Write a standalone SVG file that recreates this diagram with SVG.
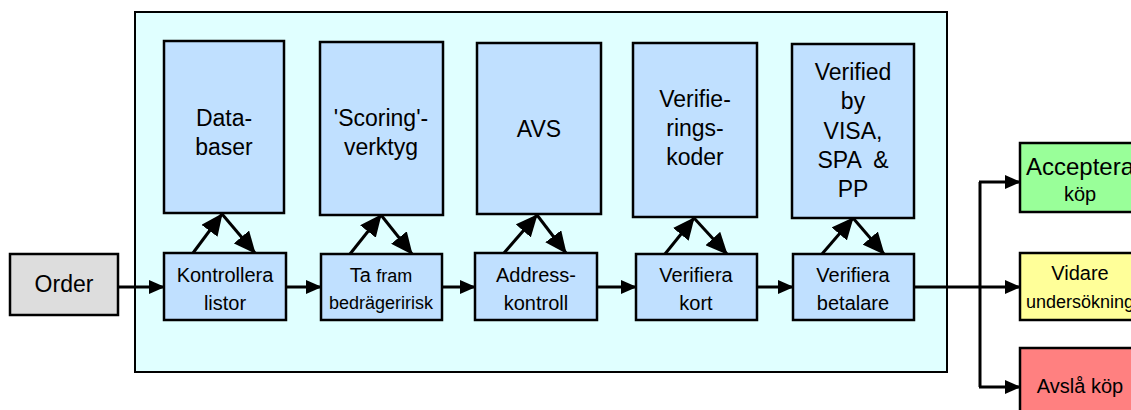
<svg xmlns="http://www.w3.org/2000/svg" width="1131" height="410" viewBox="0 0 1131 410">
  <style>
    .frame { fill: #E0FFFF; stroke: #000; stroke-width: 2; }
    .blue { fill: #C0E0FF; stroke: #000; stroke-width: 2.5; }
    .order { fill: #DDDDDD; stroke: #000; stroke-width: 2.5; }
    .ok { fill: #99FF99; stroke: #000; stroke-width: 2.5; }
    .maybe { fill: #FFFF99; stroke: #000; stroke-width: 2.5; }
    .no { fill: #FF8080; stroke: #000; stroke-width: 2.5; }
    text { font-family: "Liberation Sans", Arial, sans-serif; fill: #000; text-anchor: middle; }
    .big { font-size: 23px; }
    .mid { font-size: 20px; }
    .sm { font-size: 18px; }
    .flow { stroke: #000; stroke-width: 3; fill: none; marker-end: url(#head); }
    .link { stroke: #000; stroke-width: 3; fill: none; marker-end: url(#headL); }
    .plain { stroke: #000; stroke-width: 3; fill: none; }
  </style>
  <defs>
    <marker id="head" markerUnits="userSpaceOnUse" markerWidth="16" markerHeight="14" refX="15" refY="7" orient="auto">
      <path d="M0,0 L16,7 L0,14 z" fill="#000"/>
    </marker>
    <marker id="headL" markerUnits="userSpaceOnUse" markerWidth="22" markerHeight="20" refX="21" refY="10" orient="auto">
      <path d="M0,0 L22,10 L0,20 z" fill="#000"/>
    </marker>
  </defs>

  <!-- process frame -->
  <rect class="frame" x="135" y="12" width="812" height="360"/>

  <!-- connectors -->
  <g id="connectors">
    <!-- main flow -->
    <line class="flow" x1="118" y1="287" x2="164" y2="287"/>
    <line class="flow" x1="286" y1="287" x2="321" y2="287"/>
    <line class="flow" x1="442" y1="287" x2="475" y2="287"/>
    <line class="flow" x1="597" y1="287" x2="636" y2="287"/>
    <line class="flow" x1="757" y1="287" x2="793" y2="287"/>
    <line class="flow" x1="914" y1="287" x2="1020" y2="287"/>
    <!-- outcome branches -->
    <path class="plain" d="M980,182 L980,387"/>
    <line class="flow" x1="979" y1="182" x2="1020" y2="182"/>
    <line class="flow" x1="979" y1="387" x2="1020" y2="387"/>
    <!-- lookups: request up, answer down -->
    <line class="link" x1="193" y1="253" x2="222" y2="214"/>
    <line class="link" x1="222" y1="214" x2="255" y2="253"/>
    <line class="link" x1="350" y1="254" x2="381" y2="215"/>
    <line class="link" x1="381" y1="215" x2="412" y2="254"/>
    <line class="link" x1="504" y1="253" x2="537" y2="215"/>
    <line class="link" x1="537" y1="215" x2="566" y2="253"/>
    <line class="link" x1="665" y1="254" x2="694" y2="218"/>
    <line class="link" x1="694" y1="218" x2="727" y2="254"/>
    <line class="link" x1="822" y1="254" x2="853" y2="218"/>
    <line class="link" x1="853" y1="218" x2="884" y2="254"/>
  </g>

  <!-- input -->
  <g id="order">
    <rect class="order" x="10" y="254" width="108" height="61"/>
    <text class="big" x="64" y="292">Order</text>
  </g>

  <!-- data sources -->
  <g id="databaser">
    <rect class="blue" x="164" y="41" width="120" height="172"/>
    <text class="big" x="224" y="126">Data-</text>
    <text class="big" x="224" y="155">baser</text>
  </g>
  <g id="scoring">
    <rect class="blue" x="320" y="42" width="123" height="173"/>
    <text class="big" x="381" y="126">'Scoring'-</text>
    <text class="big" x="381" y="155">verktyg</text>
  </g>
  <g id="avs">
    <rect class="blue" x="477" y="43" width="124" height="171"/>
    <text class="big" x="539" y="137">AVS</text>
  </g>
  <g id="verifieringskoder">
    <rect class="blue" x="633" y="43" width="124" height="174"/>
    <text class="big" x="695" y="107">Verifie-</text>
    <text class="big" x="695" y="136">rings-</text>
    <text class="big" x="695" y="165">koder</text>
  </g>
  <g id="verified-by-visa">
    <rect class="blue" x="792" y="44" width="122" height="174"/>
    <text class="big" x="853" y="80">Verified</text>
    <text class="big" x="853" y="109">by</text>
    <text class="big" x="853" y="139">VISA,</text>
    <text class="big" x="853" y="168" xml:space="preserve">SPA  &amp;</text>
    <text class="big" x="853" y="197">PP</text>
  </g>

  <!-- checks -->
  <g id="kontrollera-listor">
    <rect class="blue" x="164" y="253" width="122" height="67"/>
    <text class="mid" x="225" y="282">Kontrollera</text>
    <text class="mid" x="225" y="310">listor</text>
  </g>
  <g id="bedrageririsk">
    <rect class="blue" x="321" y="254" width="121" height="66"/>
    <text class="mid" x="381" y="282">Ta <tspan class="sm">fram</tspan></text>
    <text class="sm" x="381" y="309">bedrägeririsk</text>
  </g>
  <g id="addresskontroll">
    <rect class="blue" x="475" y="253" width="122" height="67"/>
    <text class="mid" x="536" y="282">Address-</text>
    <text class="mid" x="536" y="310">kontroll</text>
  </g>
  <g id="verifiera-kort">
    <rect class="blue" x="636" y="254" width="121" height="66"/>
    <text class="mid" x="696" y="282">Verifiera</text>
    <text class="mid" x="696" y="310">kort</text>
  </g>
  <g id="verifiera-betalare">
    <rect class="blue" x="793" y="254" width="121" height="66"/>
    <text class="mid" x="853" y="282">Verifiera</text>
    <text class="mid" x="853" y="310">betalare</text>
  </g>

  <!-- outcomes -->
  <g id="acceptera">
    <rect class="ok" x="1020" y="143" width="122" height="69"/>
    <text x="1080" y="175" font-size="24">Acceptera</text>
    <text class="mid" x="1080" y="201">köp</text>
  </g>
  <g id="vidare">
    <rect class="maybe" x="1020" y="253" width="122" height="67"/>
    <text class="mid" x="1080" y="280">Vidare</text>
    <text class="sm" x="1080" y="308">undersökning</text>
  </g>
  <g id="avsla">
    <rect class="no" x="1020" y="348" width="122" height="70"/>
    <text class="mid" x="1080" y="393">Avslå köp</text>
  </g>
</svg>
